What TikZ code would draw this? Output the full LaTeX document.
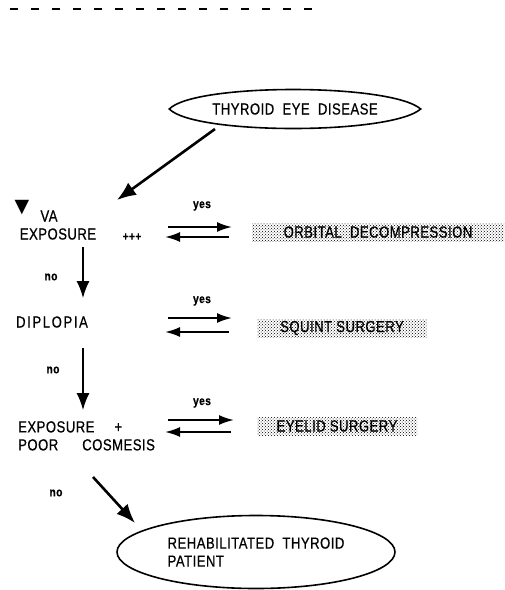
\documentclass[tikz,border=0pt]{standalone}
\usepackage{fontspec}
\setmainfont{Liberation Sans}[FakeStretch=0.82,FakeBold=0.6,LetterSpace=3]
\newfontfamily\symfont{DejaVu Sans}
\usetikzlibrary{arrows.meta,patterns,shapes.geometric}
\begin{document}
\begin{tikzpicture}[x=1pt,y=-1pt,
	cond/.style={font=\fontsize{16}{18}\selectfont, inner sep=0pt},
	reply/.style={font=\fontsize{12.5}{14}\selectfont\bfseries, inner sep=0pt},
	oval/.style={ellipse, inner sep=0pt, font=\fontsize{16}{18}\selectfont},
	rim/.style={line width=1.6pt},
	treat/.style={pattern=crosshatch dots, pattern color=black, minimum height=18pt, inner sep=0pt, font=\fontsize{16}{18}\selectfont},
	flow/.style={-{Latex[length=15pt,width=10pt]}, line width=2pt},
	vline/.style={-{Latex[length=17pt,width=13pt]}, line width=1.4pt},
	fat/.style={-{Latex[length=19pt,width=15pt]}, line width=2.6pt}]
	\useasboundingbox (0,0) rectangle (505,590);
	\draw[line width=2.5pt, dash pattern=on 8pt off 13pt] (10,9) -- (313,9);
	% start
	\node[oval, minimum width=251pt, minimum height=38pt] (ted) at (295,109) {THYROID\ \ EYE\ \ DISEASE};
	\draw[rim] (ted.west) .. controls +(25,-26) and +(-30,-26) .. (ted.east)
		.. controls +(-30,26) and +(25,26) .. (ted.west) -- cycle;
	\coordinate (s0) at (215,129);
	\coordinate (t0) at (117,200);
	\draw[fat] (s0) -- (t0);
	% VA / exposure
	\node[inner sep=0pt] (down) at (22,208) {\symfont\fontsize{19}{19}\selectfont ▼};
	\node[cond] (va) at (49,216) {VA};
	\node[cond] (expo) at (58,234) {EXPOSURE};
	\node[reply] (plus) at (132,237) {+++};
	\node[reply] (yes1) at (202,206) {yes};
	\coordinate (a1) at (168,227); \coordinate (b1) at (232,227);
	\coordinate (c1) at (229,237); \coordinate (d1) at (165,237);
	\draw[flow] (a1) -- (b1);
	\draw[flow] (c1) -- (d1);
	\node[treat, minimum width=252pt] (orb) at (378,232) {ORBITAL\ \ DECOMPRESSION};
	\coordinate (v1) at (83,247); \coordinate (w1) at (83,298);
	\draw[vline] (v1) -- (w1);
	\node[reply] (no1) at (51,277) {no};
	% diplopia
	\node[cond] (diplo) at (52,322) {\addfontfeature{LetterSpace=10}DIPLOPIA};
	\node[reply] (yes2) at (202,301) {yes};
	\coordinate (a2) at (168,318); \coordinate (b2) at (232,318);
	\coordinate (c2) at (229,332); \coordinate (d2) at (165,332);
	\draw[flow] (a2) -- (b2);
	\draw[flow] (c2) -- (d2);
	\node[treat, minimum width=170pt] (squint) at (342,328) {SQUINT SURGERY};
	\coordinate (v2) at (83,348); \coordinate (w2) at (83,410);
	\draw[vline] (v2) -- (w2);
	\node[reply] (no2) at (53,370) {no};
	% exposure + cosmesis
	\node[cond, anchor=north west, align=left] (cosm) at (18,421) {EXPOSURE\hspace{20pt}+\\POOR\hspace{24pt}COSMESIS};
	\node[reply] (yes3) at (202,403) {yes};
	\coordinate (a3) at (168,420); \coordinate (b3) at (234,420);
	\coordinate (c3) at (231,432); \coordinate (d3) at (165,432);
	\draw[flow] (a3) -- (b3);
	\draw[flow] (c3) -- (d3);
	\node[treat, minimum width=160pt] (lid) at (337,426) {EYELID SURGERY};
	\node[reply] (no3) at (56,493) {no};
	\coordinate (s3) at (93,477);
	\coordinate (t3) at (135,523);
	\draw[fat] (s3) -- (t3);
	% end
	\node[oval, draw, rim, minimum width=278pt, minimum height=73pt, align=left] (rehab) at (256,552) {REHABILITATED\ \ THYROID\\PATIENT};
\end{tikzpicture}
\end{document}
